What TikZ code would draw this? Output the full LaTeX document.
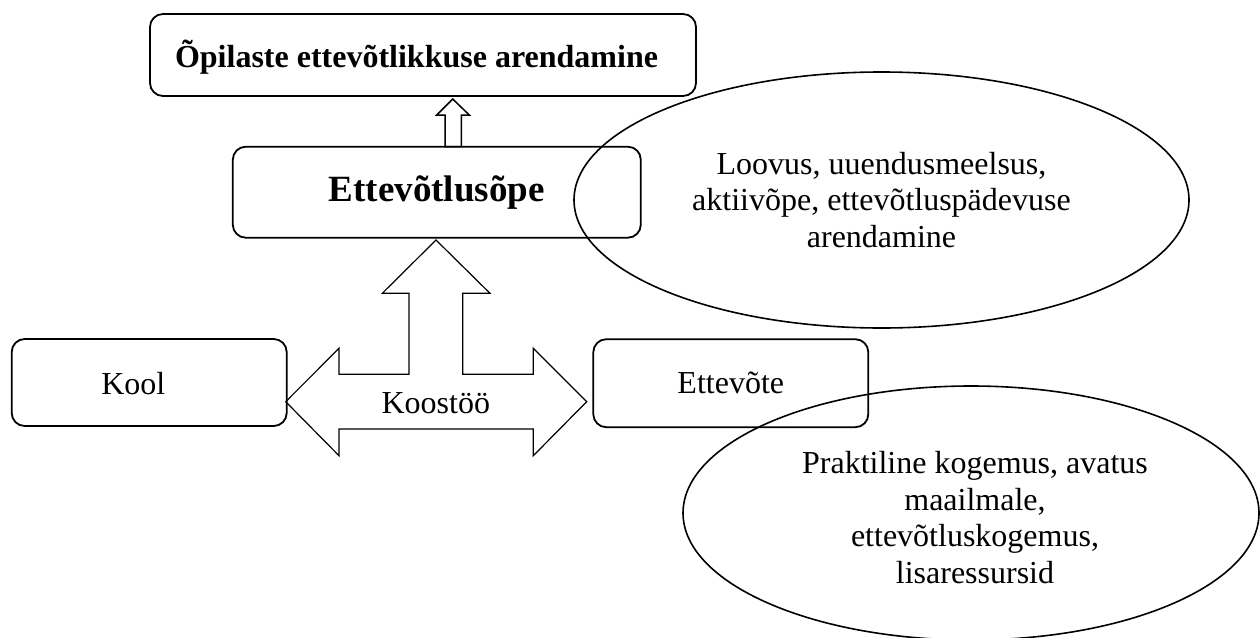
\documentclass[tikz,border=0pt]{standalone}
\usepackage{fontspec}
\setmainfont{Liberation Serif}
\usetikzlibrary{shapes.geometric}
\begin{document}
\begin{tikzpicture}[x=1pt,y=-1pt,
  box/.style={draw, line width=1.8pt, rounded corners=13pt, inner sep=0pt},
  bubble/.style={draw, ellipse, line width=1.6pt, inner sep=0pt},
  blockarrow/.style={draw, line width=1.2pt, line join=miter},
  txt/.style={font=\fontsize{32}{36.5}\selectfont, align=center, inner sep=0pt}]
\useasboundingbox (0,0) rectangle (1260,637);
% boxes
\node[box, minimum width=546pt, minimum height=82pt] (goal) at (423,55) {};
\node[font=\bfseries\fontsize{32}{36}\selectfont, inner sep=0pt] (goaltext) at (416.5,57) {Õpilaste ettevõtlikkuse arendamine};
\node[box, minimum width=408pt, minimum height=91pt, font=\bfseries\fontsize{37}{42}\selectfont] (eop) at (436.8,192.2) {Ettevõtlusõpe};
\node[box, minimum width=275pt, minimum height=87pt] (kool) at (149.2,382.5) {};
\node[txt] (koollabel) at (133.3,384) {Kool};
\node[box, txt, minimum width=275pt, minimum height=88pt] (ettevote) at (730.8,383.2) {Ettevõte};
% small arrow
\draw[blockarrow, line width=1.5pt] (452.7,99) -- (469.3,115) -- (461.3,115) -- (461.3,146.7) -- (445,146.7) -- (445,115) -- (436.7,115) -- cycle;
% big three-way arrow
\draw[blockarrow] (436,240) -- (490,293.3) -- (462.7,293.3) -- (462.7,374.3) -- (533.3,374.3) -- (533.3,348.3) -- (586.7,401.7) -- (533.3,455.7) -- (533.3,429) -- (339,429) -- (339,455.7) -- (285.7,401.7) -- (339,348.3) -- (339,374.3) -- (409,374.3) -- (409,293.3) -- (382.3,293.3) -- cycle;
\node[txt] (koostoo) at (435.8,402.7) {Koostöö};
% ellipses
\node[bubble, txt, minimum width=615pt, minimum height=256pt] (loovus) at (881.5,200) {Loovus, uuendusmeelsus,\\aktiivõpe, ettevõtluspädevuse\\arendamine};
\node[bubble, minimum width=576pt, minimum height=254pt] (praktika) at (971,513) {};
\node[txt] (praktikatext) at (975,517.5) {Praktiline kogemus, avatus\\maailmale,\\ettevõtluskogemus,\\lisaressursid};
\end{tikzpicture}
\end{document}
